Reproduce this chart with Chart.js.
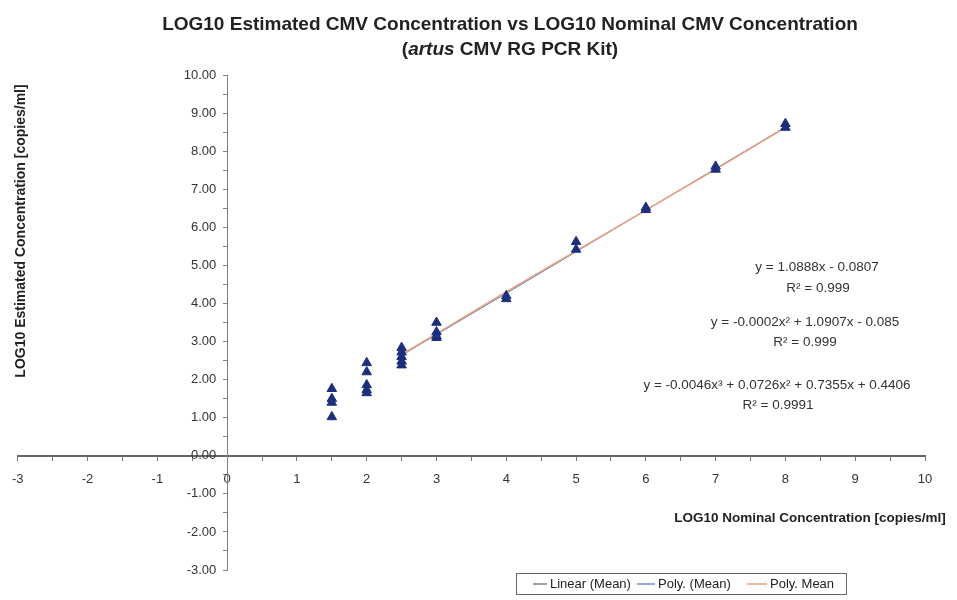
<!DOCTYPE html>
<html>
<head>
<meta charset="utf-8">
<script src="https://cdn.jsdelivr.net/npm/chart.js@4.4.1/dist/chart.umd.min.js"></script>
<style>
  body { margin: 0; background: #fff; }
  #wrap { width: 957px; height: 600px; }
</style>
</head>
<body>
<div id="wrap"><canvas id="myChart" width="957" height="600"></canvas></div>
<script>
'use strict';

//data
let nominalConc = [1.5, 1.5, 1.5, 1.5, 2, 2, 2, 2, 2, 2.5, 2.5, 2.5, 2.5, 2.5, 3, 3, 3, 3, 4, 4, 5, 5, 6, 6, 7, 7, 8, 8];
let estimatedConc = [1.76, 1.50, 1.40, 1.02, 2.44, 2.20, 1.86, 1.73, 1.65, 2.84, 2.72, 2.60, 2.48, 2.38, 3.50, 3.25, 3.15, 3.10, 4.20, 4.12, 5.62, 5.42, 6.52, 6.46, 7.60, 7.52, 8.72, 8.62];

//trend lines (mean)
let trendX = [2.5, 3, 4, 5, 6, 7, 8];
let linearMean = [2.64, 3.19, 4.27, 5.36, 6.45, 7.54, 8.63];
let poly2Mean = [2.64, 3.18, 4.27, 5.36, 6.45, 7.54, 8.63];
let poly3Mean = [2.66, 3.21, 4.31, 5.38, 6.45, 7.52, 8.62];

let legendLabels = ['Linear (Mean)', 'Poly. (Mean)', 'Poly. Mean'];
let titleLine1 = 'LOG10 Estimated CMV Concentration vs LOG10 Nominal CMV Concentration';
let titleLine2 = ['(', 'artus', ' CMV RG PCR Kit)'];
let xTitle = 'LOG10 Nominal Concentration [copies/ml]';
let yTitle = 'LOG10 Estimated Concentration [copies/ml]';
let equations = [
  'y = 1.0888x - 0.0807', 'R\u00b2 = 0.999',
  'y = -0.0002x\u00b2 + 1.0907x - 0.085', 'R\u00b2 = 0.999',
  'y = -0.0046x\u00b3 + 0.0726x\u00b2 + 0.7355x + 0.4406', 'R\u00b2 = 0.9991'
];

const FONT = '"Liberation Sans", Arial, sans-serif';
const lineColors = ['#808080', '#6f8fcf', '#f2a27a'];

function pairs(xs, ys){
  let out = [];
  for(let i = 0; i < xs.length; i++){
    out.push({x: xs[i], y: ys[i]});
  }
  return out;
}

//texts drawn on top of the chart
const textPlugin = {
  id: 'chartTexts',
  afterDraw(chart){
    const ctx = chart.ctx;
    ctx.save();
    ctx.fillStyle = '#222';
    ctx.textBaseline = 'middle';

    //title
    ctx.textAlign = 'center';
    ctx.font = 'bold 19px ' + FONT;
    ctx.fillText(titleLine1, 510, 25);
    let fonts = ['bold 19px ' + FONT, 'italic bold 19px ' + FONT, 'bold 19px ' + FONT];
    let total = 0;
    for(let i = 0; i < titleLine2.length; i++){
      ctx.font = fonts[i];
      total += ctx.measureText(titleLine2[i]).width;
    }
    let x = 510 - total / 2;
    ctx.textAlign = 'left';
    for(let i = 0; i < titleLine2.length; i++){
      ctx.font = fonts[i];
      ctx.fillText(titleLine2[i], x, 50);
      x += ctx.measureText(titleLine2[i]).width;
    }

    //axis titles
    ctx.textAlign = 'center';
    ctx.font = 'bold 13.5px ' + FONT;
    ctx.fillText(xTitle, 810, 518);
    ctx.save();
    ctx.translate(21, 231);
    ctx.rotate(-Math.PI / 2);
    ctx.font = 'bold 14px ' + FONT;
    ctx.fillText(yTitle, 0, 0);
    ctx.restore();

    //trend line equations
    ctx.font = '13.5px ' + FONT;
    ctx.fillStyle = '#333';
    let eqPos = [[817, 267], [818, 288], [805, 322], [805, 342], [777, 385], [778, 405]];
    for(let i = 0; i < equations.length; i++){
      ctx.fillText(equations[i], eqPos[i][0], eqPos[i][1]);
    }

    //legend box
    ctx.strokeStyle = '#666';
    ctx.lineWidth = 1;
    ctx.strokeRect(516.5, 573.5, 330, 21);
    let itemX = [533, 637, 747];
    let lineLen = [14, 18, 20];
    ctx.textAlign = 'left';
    ctx.font = '13px ' + FONT;
    ctx.fillStyle = '#222';
    for(let i = 0; i < legendLabels.length; i++){
      ctx.strokeStyle = lineColors[i];
      ctx.lineWidth = 1.5;
      ctx.beginPath();
      ctx.moveTo(itemX[i], 584);
      ctx.lineTo(itemX[i] + lineLen[i], 584);
      ctx.stroke();
      ctx.fillText(legendLabels[i], itemX[i] + lineLen[i] + 3, 584);
    }
    ctx.restore();
  }
};

const ctx = document.getElementById('myChart');
new Chart(ctx, {
  type: 'scatter',
  data: {
    datasets: [
      {
        label: 'Mean',
        data: pairs(nominalConc, estimatedConc),
        pointStyle: 'triangle',
        pointRadius: 5.5,
        backgroundColor: '#1b2f7e',
        borderColor: '#1b2f7e',
        order: 0
      },
      {
        label: legendLabels[0],
        data: pairs(trendX, linearMean),
        showLine: true,
        pointRadius: 0,
        borderColor: lineColors[0],
        borderWidth: 1,
        order: 3
      },
      {
        label: legendLabels[1],
        data: pairs(trendX, poly2Mean),
        showLine: true,
        pointRadius: 0,
        borderColor: lineColors[1],
        borderWidth: 1,
        order: 2
      },
      {
        label: legendLabels[2],
        data: pairs(trendX, poly3Mean),
        showLine: true,
        pointRadius: 0,
        borderColor: lineColors[2],
        borderWidth: 1.5,
        order: 1
      }
    ]
  },
  options: {
    responsive: false,
    animation: false,
    layout: {
      padding: {left: 15, right: 32, top: 75, bottom: 30}
    },
    plugins: {
      legend: {display: false},
      tooltip: {enabled: false}
    },
    scales: {
      x: {
        type: 'linear',
        min: -3,
        max: 10,
        position: {y: 0},
        border: {color: '#666', width: 2},
        grid: {drawOnChartArea: false, drawTicks: true, tickLength: 4, color: '#777'},
        ticks: {
          stepSize: 0.5,
          autoSkip: false,
          maxRotation: 0,
          color: '#333',
          font: {family: FONT, size: 13},
          padding: 12,
          callback: v => Number.isInteger(v) ? String(v) : ''
        }
      },
      y: {
        type: 'linear',
        min: -3,
        max: 10,
        position: {x: 0},
        border: {color: '#808080', width: 1},
        grid: {drawOnChartArea: false, drawTicks: true, tickLength: 4, color: '#808080'},
        ticks: {
          stepSize: 0.5,
          autoSkip: false,
          color: '#333',
          font: {family: FONT, size: 13},
          //trailing spaces keep the labels clear of the axis line
          callback: v => Number.isInteger(v) ? v.toFixed(2) + '   ' : ''
        }
      }
    }
  },
  plugins: [textPlugin]
});
</script>
</body>
</html>
